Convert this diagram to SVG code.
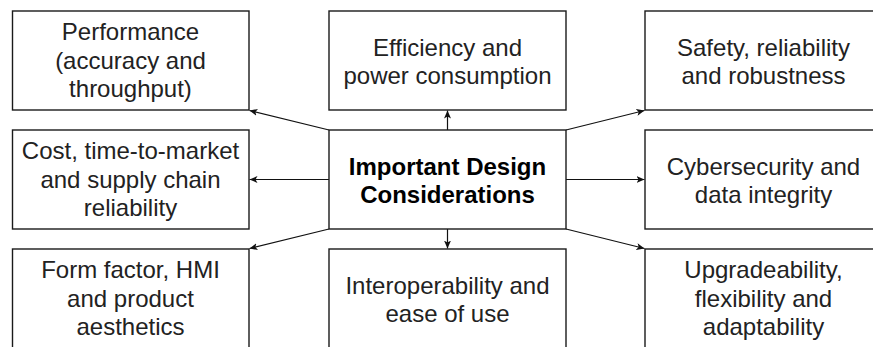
<svg xmlns="http://www.w3.org/2000/svg" width="873" height="347" viewBox="0 0 873 347">
<style>
.box{fill:#fff;stroke:#1a1a1a;stroke-width:1.4}
.t{font-family:"Liberation Sans",Arial,sans-serif;font-size:24px;fill:#222;text-anchor:middle}
.b{font-weight:bold;fill:#000}
.c{stroke:#111;stroke-width:1.2;fill:none;marker-end:url(#ah)}
</style>
<defs>
<marker id="ah" markerUnits="userSpaceOnUse" markerWidth="10" markerHeight="8" refX="8" refY="3.5" orient="auto">
<path d="M0,0 L8,3.5 L0,7 L2,3.5 Z" fill="#111"/>
</marker>
</defs>
<rect width="873" height="347" fill="#fff"/>
<g id="connectors">
<line class="c" x1="447.5" y1="130" x2="447.5" y2="110.5"/>
<line class="c" x1="447.5" y1="229" x2="447.5" y2="248.5"/>
<line class="c" x1="329" y1="179.5" x2="249.5" y2="179.5"/>
<line class="c" x1="566" y1="179.5" x2="644.5" y2="179.5"/>
<line class="c" x1="329" y1="130" x2="249.5" y2="110.5"/>
<line class="c" x1="566" y1="130" x2="644.5" y2="110.5"/>
<line class="c" x1="329" y1="229" x2="249.5" y2="248.5"/>
<line class="c" x1="566" y1="229" x2="644.5" y2="248.5"/>
</g>
<g id="performance">
<rect class="box" x="12.5" y="11" width="236.5" height="99"/>
<text class="t" x="130.5" y="40">Performance</text>
<text class="t" x="130.5" y="68.5">(accuracy and</text>
<text class="t" x="130.5" y="97">throughput)</text>
</g>
<g id="efficiency">
<rect class="box" x="329" y="11" width="237" height="99"/>
<text class="t" x="447.5" y="56">Efficiency and</text>
<text class="t" x="447.5" y="84">power consumption</text>
</g>
<g id="safety">
<rect class="box" x="645" y="11" width="237" height="99"/>
<text class="t" x="763.5" y="56">Safety, reliability</text>
<text class="t" x="763.5" y="84">and robustness</text>
</g>
<g id="cost">
<rect class="box" x="12.5" y="130" width="236.5" height="99"/>
<text class="t" x="130.5" y="159">Cost, time-to-market</text>
<text class="t" x="130.5" y="187.5">and supply chain</text>
<text class="t" x="130.5" y="216">reliability</text>
</g>
<g id="center">
<rect class="box" x="329" y="130" width="237" height="99"/>
<text class="t b" x="447.5" y="175">Important Design</text>
<text class="t b" x="447.5" y="203">Considerations</text>
</g>
<g id="cybersecurity">
<rect class="box" x="645" y="130" width="237" height="99"/>
<text class="t" x="763.5" y="175">Cybersecurity and</text>
<text class="t" x="763.5" y="203">data integrity</text>
</g>
<g id="formfactor">
<rect class="box" x="12.5" y="249" width="236.5" height="99"/>
<text class="t" x="130.5" y="278">Form factor, HMI</text>
<text class="t" x="130.5" y="306.5">and product</text>
<text class="t" x="130.5" y="335">aesthetics</text>
</g>
<g id="interoperability">
<rect class="box" x="329" y="249" width="237" height="99"/>
<text class="t" x="447.5" y="294">Interoperability and</text>
<text class="t" x="447.5" y="322">ease of use</text>
</g>
<g id="upgradeability">
<rect class="box" x="645" y="249" width="237" height="99"/>
<text class="t" x="763.5" y="278">Upgradeability,</text>
<text class="t" x="763.5" y="306.5">flexibility and</text>
<text class="t" x="763.5" y="335">adaptability</text>
</g>
</svg>
